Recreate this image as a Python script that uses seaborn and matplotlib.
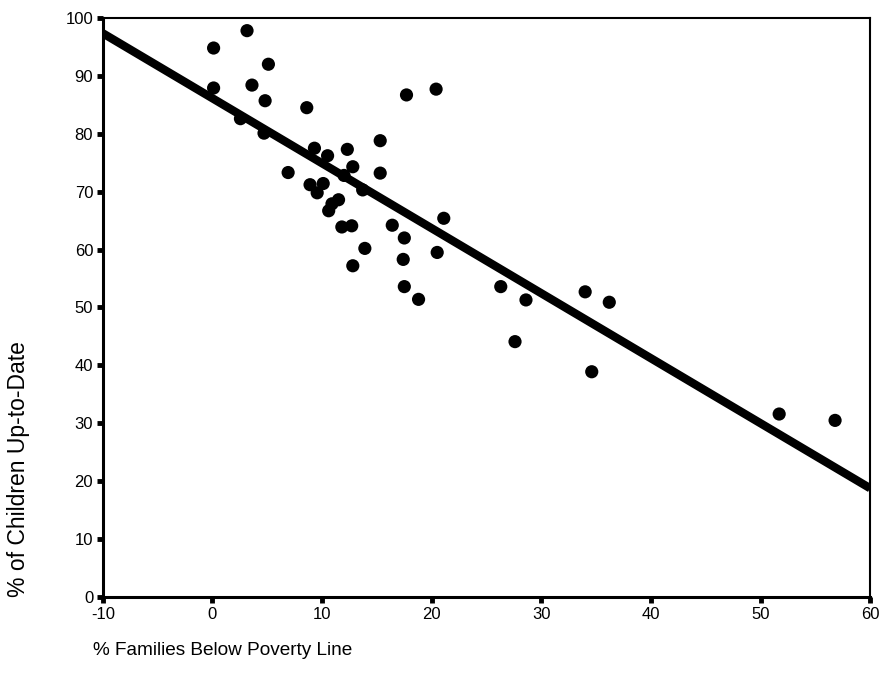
import numpy as np
import pandas as pd
import matplotlib
matplotlib.use('Agg')
import matplotlib.pyplot as plt
import seaborn as sns

# % families below poverty line vs % children up-to-date
poverty = [0.1, 3.15, 5.1, 3.6, 0.1, 4.8, 8.6, 2.55, 4.7,
           15.3, 9.3, 12.3, 10.5, 12.8, 15.3, 6.9, 12.0, 8.9, 10.1,
           9.55, 13.7, 11.5, 10.9, 10.6, 21.1, 11.8, 12.7, 16.4, 17.5,
           13.9, 20.5, 17.4, 12.8, 17.5, 18.8, 17.7, 20.4,
           26.3, 28.6, 27.6, 34.0, 36.2, 34.6, 51.7, 56.8]
uptodate = [94.8, 97.8, 92.0, 88.4, 87.9, 85.7, 84.5, 82.6, 80.1,
            78.8, 77.5, 77.3, 76.2, 74.3, 73.2, 73.3, 72.8, 71.2, 71.4,
            69.8, 70.3, 68.6, 67.9, 66.7, 65.4, 63.9, 64.1, 64.2, 62.0,
            60.2, 59.5, 58.3, 57.2, 53.6, 51.4, 86.7, 87.7,
            53.6, 51.3, 44.1, 52.7, 50.9, 38.9, 31.6, 30.5]

xticks = [-10, 0, 10, 20, 30, 40, 50, 60]
yticks = [0, 10, 20, 30, 40, 50, 60, 70, 80, 90, 100]

df = pd.DataFrame({'poverty': poverty, 'uptodate': uptodate})

sns.set_style('white')
plt.rcParams['font.family'] = ['Liberation Sans', 'DejaVu Sans']
plt.rcParams['axes.unicode_minus'] = False

fig = plt.figure(figsize=(8.87, 6.89), dpi=100)
ax = fig.add_axes([0.116, 0.1335, 0.865, 0.8405])
ax.set_xlim(-10, 60)
ax.set_ylim(0, 100)

sns.regplot(data=df, x='poverty', y='uptodate', ax=ax, ci=None, truncate=False,
            scatter_kws={'s': 90, 'color': 'black', 'edgecolor': 'none', 'alpha': 1},
            line_kws={'color': 'black', 'linewidth': 6, 'solid_capstyle': 'butt'})

ax.set_xlim(-10, 60)
ax.set_ylim(0, 100)
ax.set_xticks(xticks)
ax.set_yticks(yticks)
ax.tick_params(axis='both', direction='out', length=4, width=3.5, color='black',
               labelsize=12, labelcolor='black', pad=3,
               bottom=True, left=True)
for name, sp in ax.spines.items():
    sp.set_color('black')
    sp.set_linewidth(2.2 if name in ('left', 'bottom') else 1.5)

ax.set_xlabel('% Families Below Poverty Line', fontsize=13.7, loc='left', color='black')
ax.set_ylabel('% of Children Up-to-Date', fontsize=16.5, loc='bottom', color='black')
ax.xaxis.set_label_coords(-0.013, -0.078)
ax.yaxis.set_label_coords(-0.095, 0.0)

fig.savefig('out.png', dpi=100)
